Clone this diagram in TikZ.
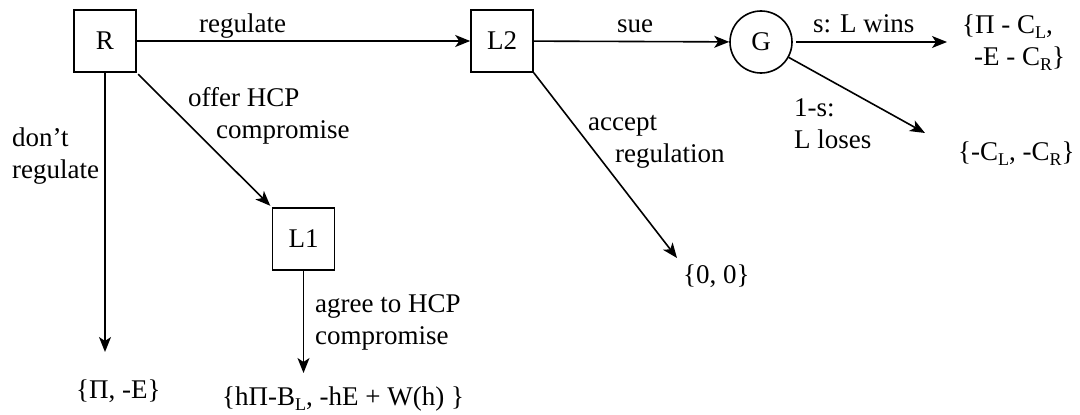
\documentclass[tikz,border=0pt]{standalone}
\usepackage{fontspec}
\setmainfont{Liberation Serif}
\usetikzlibrary{arrows.meta}
\newcommand{\sbs}[1]{\raisebox{-5pt}{\fontsize{18}{18}\selectfont #1}}
\tikzset{
  move/.style={draw, minimum size=62pt, inner sep=0pt, line width=1.6pt},
  chance/.style={draw, circle, minimum size=62pt, inner sep=0pt, line width=1.6pt},
  branch/.style={-{Stealth[length=15pt,width=12pt,inset=4pt]}, line width=1.6pt},
  lbl/.style={inner sep=0pt, anchor=base west, align=left},
}
\begin{document}
\begin{tikzpicture}[x=1pt,y=-1pt,font=\fontsize{27}{32}\selectfont]
\useasboundingbox (0,0) rectangle (1080,415);
% decision and chance nodes
\node[move] (R) at (105,41) {R};
\node[move] (L2) at (502,41) {L2};
\node[move] (L1) at (303.5,239) {L1};
\node[chance] (G) at (761,42) {G};
% payoffs (base = last line)
\node[lbl] (pNR) at (76,398) {\{Π, -E\}};
\node[lbl] (pHCP) at (222,405) {\{hΠ-B\sbs{L}, -hE + W(h) \}};
\node[lbl] (pAcc) at (683,283) {\{0, 0\}};
\node[lbl] (pWin) at (962,65) {\{Π - C\sbs{L},\\\hspace*{12pt}-E - C\sbs{R}\}};
\node[lbl] (pLose) at (958,160) {\{-C\sbs{L}, -C\sbs{R}\}};
% arrow ends
\coordinate (eNR) at (105,352);
\coordinate (eHCP) at (303.5,373);
\coordinate (eAcc) at (677,258);
\coordinate (eWin) at (947,42);
\coordinate (eLose) at (925,133);
% branches
\draw[branch] (R) -- (L2);
\draw[branch, shorten <=2pt, shorten >=2pt] (R.south east) -- (L1.north west);
\draw[branch] (R.south) -- (eNR);
\draw[branch] (L1.south) -- (eHCP);
\draw[branch] (L2) -- (G);
\draw[branch] (L2.south east) -- (eAcc);
\draw[branch, shorten <=3pt] (G) -- (eWin);
\draw[branch] (G) -- (eLose);
% branch labels
\node[lbl] (tReg) at (199,32) {regulate};
\node[lbl] (tOffer) at (188,138) {offer HCP\\\hspace*{28pt}compromise};
\node[lbl] (tNoReg) at (12,178) {don't\\regulate};
\node[lbl] (tAgree) at (315,344) {agree to HCP\\compromise};
\node[lbl] (tSue) at (617,32) {sue};
\node[lbl] (tAccept) at (588,162) {accept\\\hspace*{27pt}regulation};
\node[lbl] (tWin) at (813,32) {s: L wins};
\node[lbl] (tLose) at (794,148) {1-s:\\L loses};
\end{tikzpicture}
\end{document}
